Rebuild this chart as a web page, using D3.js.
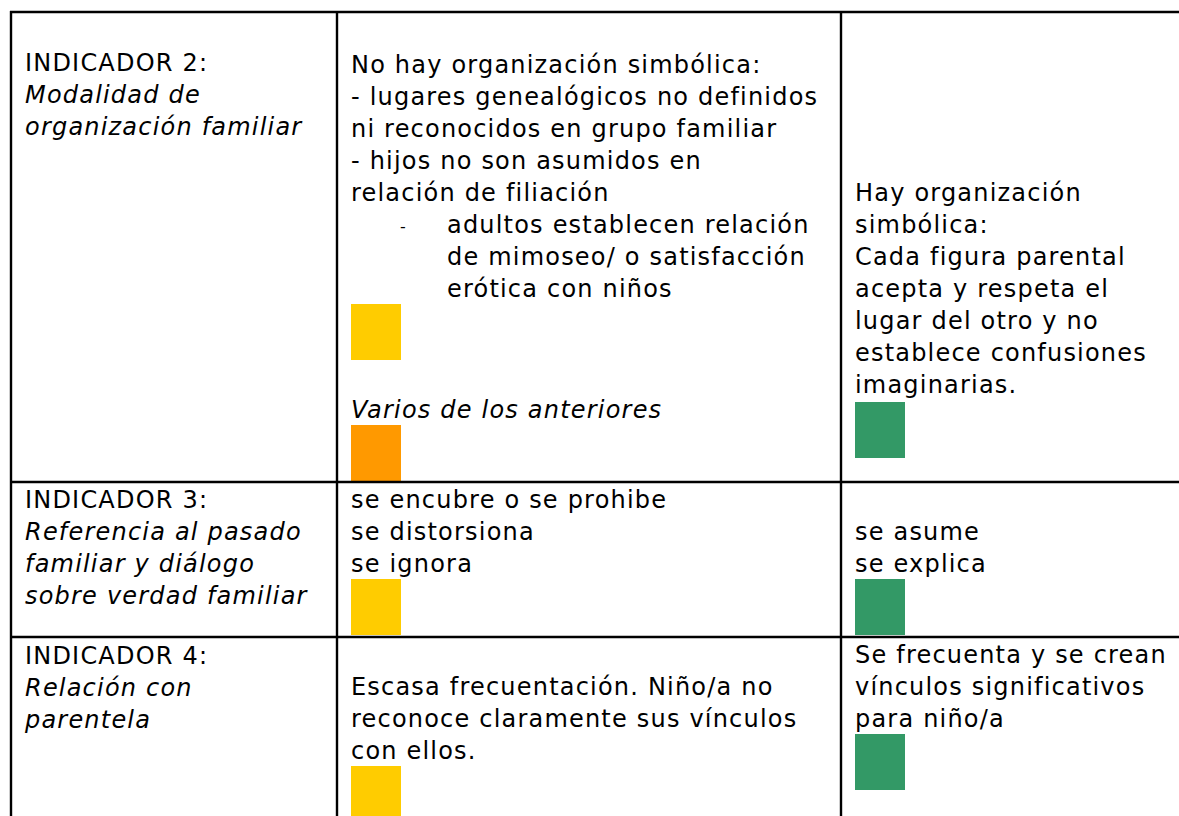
<!DOCTYPE html>
<html>
<head>
<meta charset="utf-8">
<script src="https://cdn.jsdelivr.net/npm/d3@7/dist/d3.min.js"></script>
<style>
  html, body { margin: 0; padding: 0; background: #fff; }
  svg { display: block; }
  text { font-family: "DejaVu Sans", Verdana, sans-serif; font-size: 24px; letter-spacing: 1.2px; fill: #000; }
  .it { font-style: italic; }
</style>
</head>
<body>
<svg id="chart" width="1179" height="816"></svg>
<script>
// ---------------- DATA ----------------
const indicatorLabels = ["INDICADOR 2:", "INDICADOR 3:", "INDICADOR 4:"];
const indicatorNames = [
  ["Modalidad de", "organización familiar"],
  ["Referencia al pasado", "familiar y diálogo", "sobre verdad familiar"],
  ["Relación con", "parentela"]
];
const riskTexts = [
  ["No hay organización simbólica:", "- lugares genealógicos no definidos", "ni reconocidos en grupo familiar", "- hijos no son asumidos en", "relación de filiación"],
  ["se encubre o se prohibe", "se distorsiona", "se ignora"],
  ["Escasa frecuentación. Niño/a no", "reconoce claramente sus vínculos", "con ellos."]
];
const riskBullets = [
  ["adultos establecen relación", "de mimoseo/ o satisfacción", "erótica con niños"],
  [],
  []
];
const riskNotes = ["Varios de los anteriores", "", ""];
const protectiveTexts = [
  ["Hay organización", "simbólica:", "Cada figura parental", "acepta y respeta el", "lugar del otro y no", "establece confusiones", "imaginarias."],
  ["se asume", "se explica"],
  ["Se frecuenta y se crean", "vínculos significativos", "para niño/a"]
];
const levels = ["alerta", "grave", "protector"];
const levelColors = ["#FFCC00", "#FF9900", "#339966"];
const markerRows = [0, 0, 0, 1, 1, 2, 2];
const markerCols = [1, 1, 2, 1, 2, 1, 2];
const markerLevels = ["alerta", "grave", "protector", "alerta", "protector", "alerta", "protector"];

// ---------------- LAYOUT ----------------
const W = 1179, H = 816;
const colEdges = [11, 337, 841, 1200];
const rowEdges = [12, 482, 637, 830];
const lineH = 32;
const padX = 14;
// first baseline offset from row top for [indicator, risk, protective]
const firstBaseline = [[59, 61, 189], [26, 26, 58], [27, 58, 26]];
const bulletDashDx = 49, bulletTextDx = 96;
const noteBaseline = 406;           // offset from row top for the note
const markerTops = [292, 413, 390, 97, 97, 129, 97];
const markerW = 50, markerH = 56;

const svg = d3.select("#chart");
const cols = d3.range(3), rows = d3.range(3);
const x = d3.scaleOrdinal().domain(cols).range(colEdges.slice(0, 3));
const y = d3.scaleOrdinal().domain(rows).range(rowEdges.slice(0, 3));
const color = d3.scaleOrdinal().domain(levels).range(levelColors);

// markers (drawn first so borders sit on top)
const markers = markerRows.map((r, i) => ({ row: r, col: markerCols[i], level: markerLevels[i], top: markerTops[i] }));
svg.append("g").selectAll("rect").data(markers).join("rect")
  .attr("x", d => x(d.col) + padX)
  .attr("y", d => y(d.row) + d.top)
  .attr("width", markerW)
  .attr("height", d => Math.min(markerH, rowEdges[d.row + 1] - (y(d.row) + d.top)))
  .attr("fill", d => color(d.level));

// text cells
const g = svg.append("g");
function lines(rowIdx, colIdx, arr, cls, dx, startLine) {
  g.append("g").selectAll("text").data(arr).join("text")
    .attr("class", cls || null)
    .attr("x", x(colIdx) + padX + (dx || 0))
    .attr("y", (d, i) => y(rowIdx) + firstBaseline[rowIdx][colIdx] + ((startLine || 0) + i) * lineH)
    .text(d => d);
}
rows.forEach(r => {
  lines(r, 0, [indicatorLabels[r]]);
  lines(r, 0, indicatorNames[r], "it", 0, 1);
  lines(r, 1, riskTexts[r]);
  if (riskBullets[r].length) {
    g.append("text")
      .attr("x", x(1) + padX + bulletDashDx)
      .attr("y", y(r) + firstBaseline[r][1] + riskTexts[r].length * lineH - 1)
      .style("font-size", "16px")
      .text("-");
    lines(r, 1, riskBullets[r], null, bulletTextDx, riskTexts[r].length);
  }
  if (riskNotes[r]) {
    g.append("text").attr("class", "it")
      .attr("x", x(1) + padX)
      .attr("y", y(r) + noteBaseline)
      .text(riskNotes[r]);
  }
  lines(r, 2, protectiveTexts[r]);
});

// grid lines
const grid = svg.append("g").attr("stroke", "#000").attr("stroke-width", 2.4);
grid.selectAll("line.h").data(rowEdges.slice(0, 3)).join("line")
  .attr("x1", colEdges[0] - 1).attr("x2", W).attr("y1", d => d).attr("y2", d => d);
grid.selectAll("line.v").data(colEdges.slice(0, 3)).join("line")
  .attr("y1", rowEdges[0] - 1).attr("y2", H).attr("x1", d => d).attr("x2", d => d);
</script>
</body>
</html>
